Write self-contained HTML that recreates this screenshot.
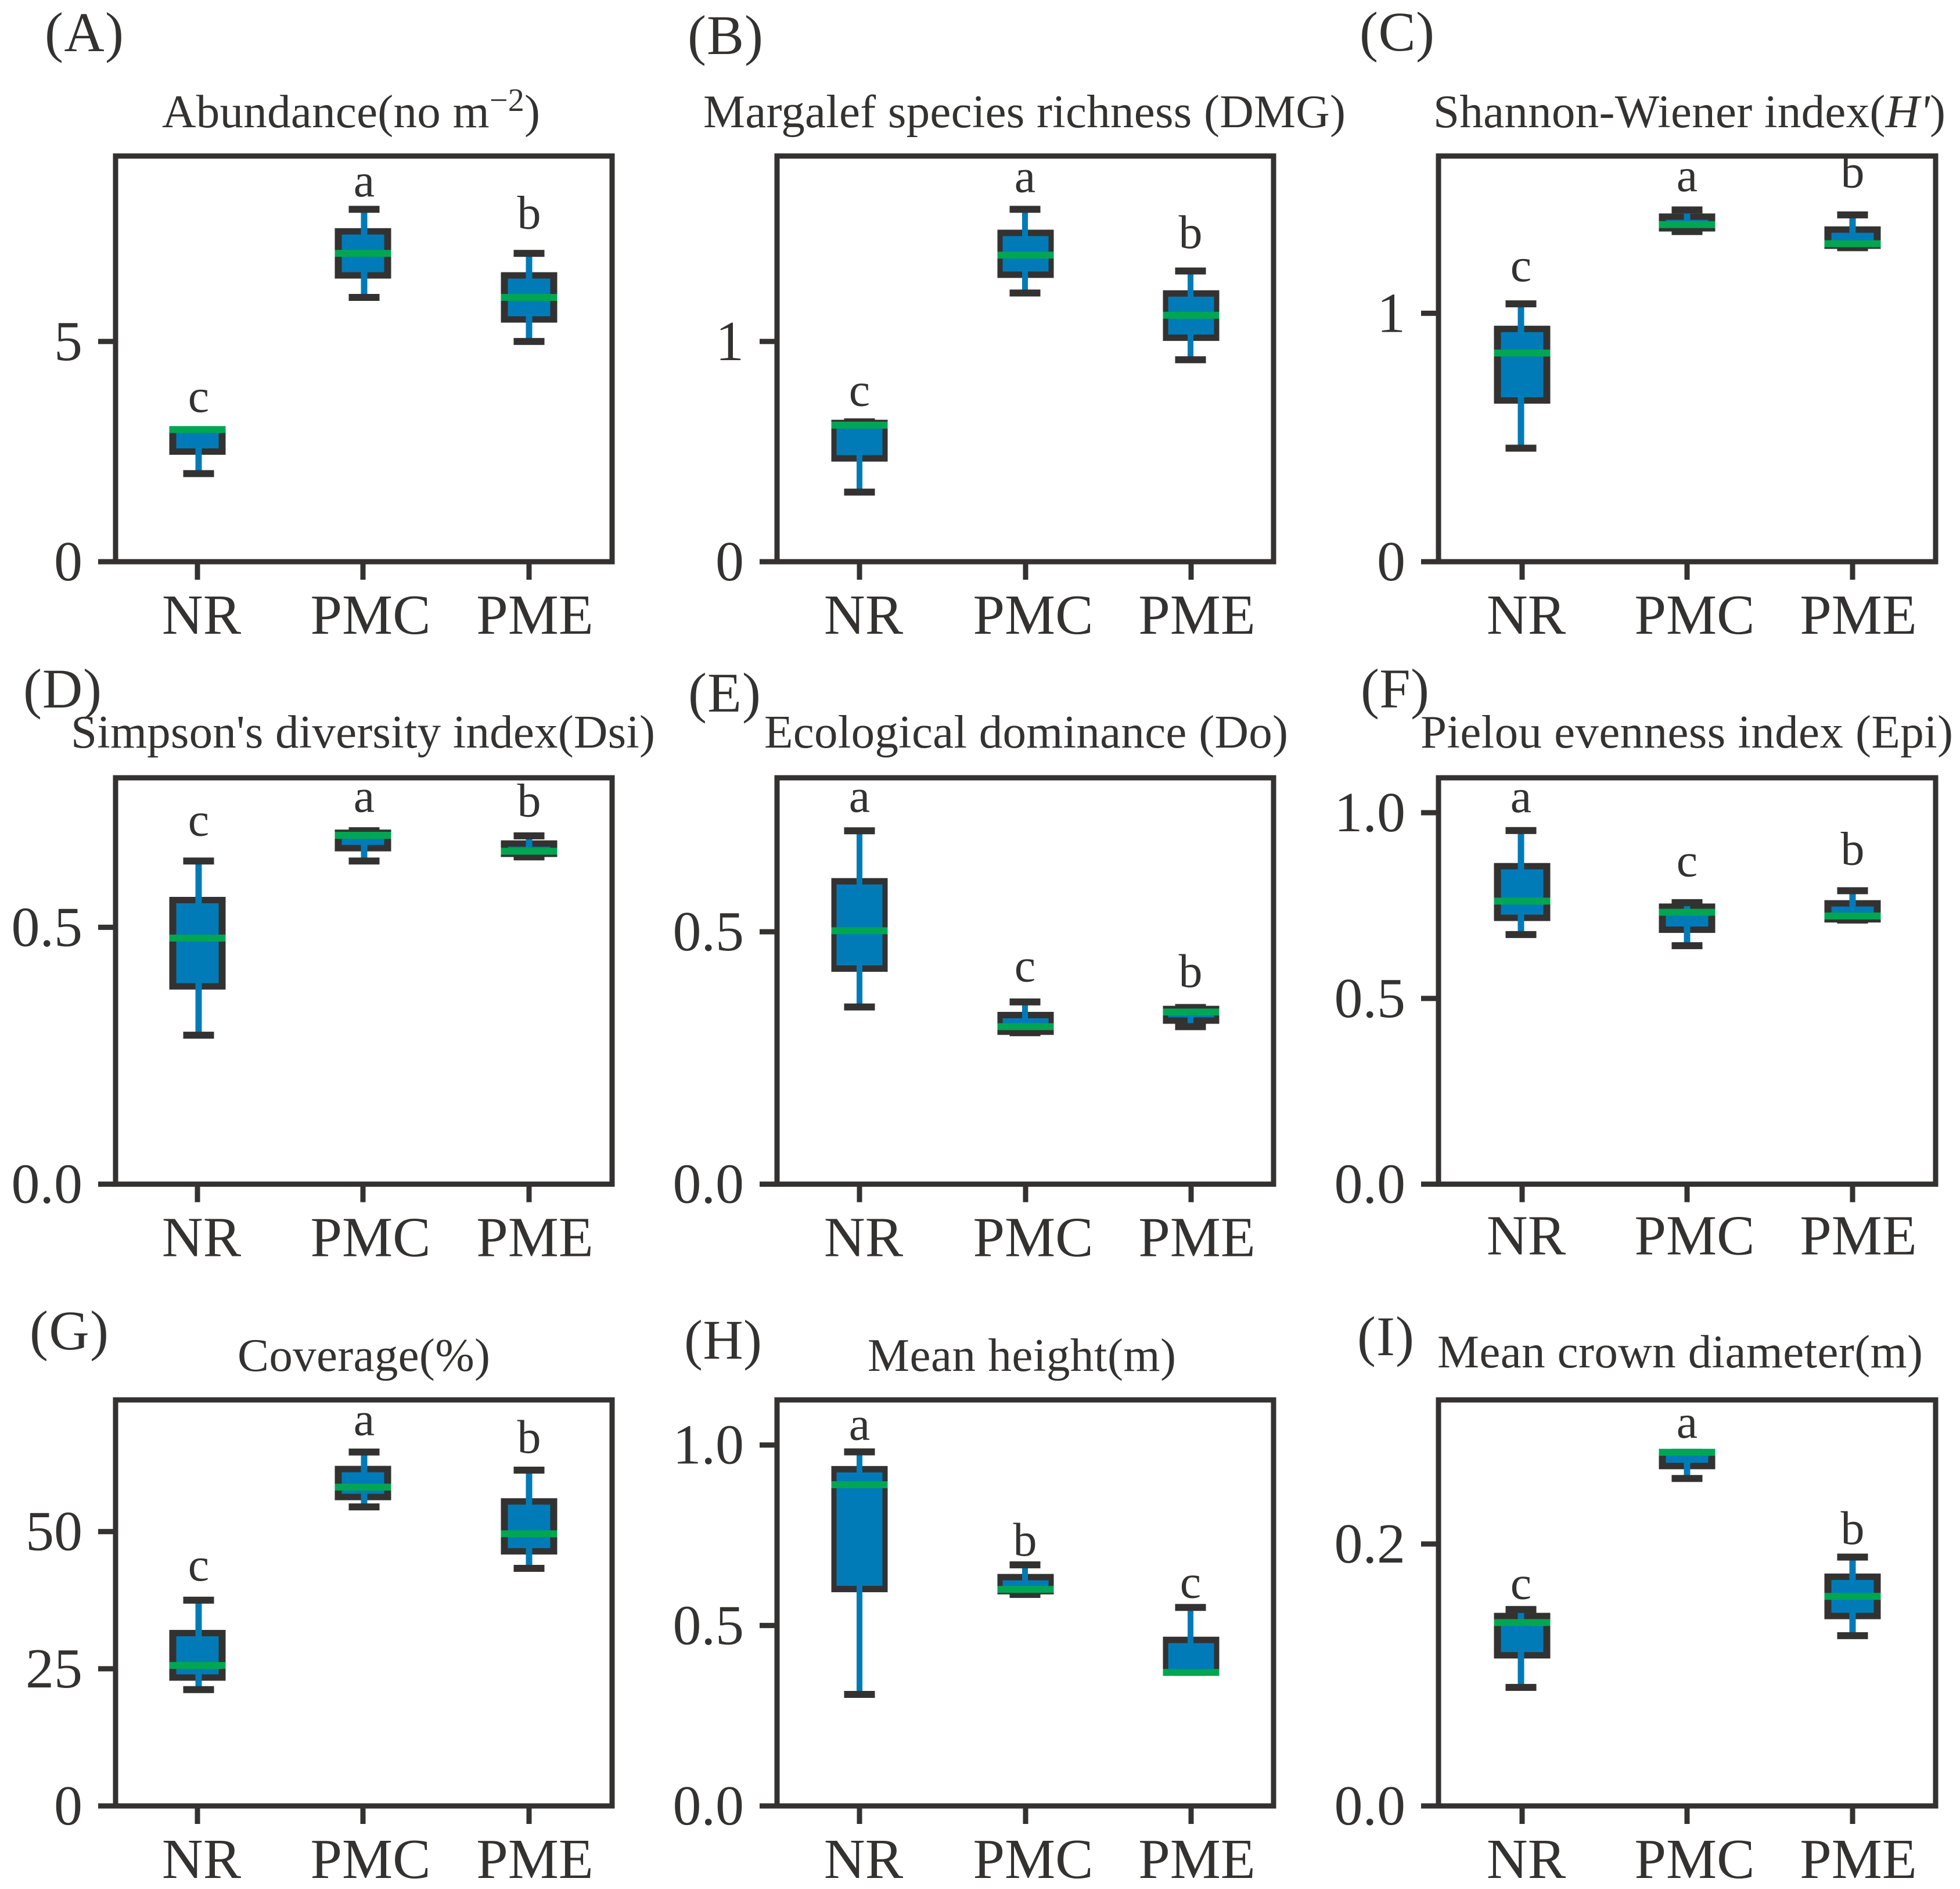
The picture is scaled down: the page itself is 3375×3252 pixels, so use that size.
<!DOCTYPE html>
<html lang="en">
<head>
<meta charset="utf-8">
<title>Vegetation indices box plots</title>
<style>
html,body{margin:0;padding:0;background:#fff;}
svg{display:block;}
text{font-family:"Liberation Serif",serif;fill:#333231;}
</style>
</head>
<body>
<svg id="chart" xmlns="http://www.w3.org/2000/svg" width="3375" height="3252" viewBox="0 0 3375 3252"></svg>
<script>
const categories = ['NR', 'PMC', 'PME'];

const aHigh = [3, 8, 7],            aQ3 = [3, 7.5, 6.5],          aMedian = [3, 7, 6],            aQ1 = [2.5, 6.5, 5.5],         aLow = [2, 6, 5];
const bHigh = [0.635, 1.6, 1.32],   bQ3 = [0.63, 1.493, 1.218],   bMedian = [0.62, 1.392, 1.119], bQ1 = [0.469, 1.303, 1.017],   bLow = [0.316, 1.22, 0.917];
const cHigh = [1.038, 1.416, 1.396],cQ3 = [0.937, 1.389, 1.337],  cMedian = [0.84, 1.357, 1.28],  cQ1 = [0.649, 1.342, 1.272],   cLow = [0.457, 1.329, 1.264];
const dHigh = [0.629, 0.688, 0.678],dQ3 = [0.553, 0.684, 0.663],  dMedian = [0.479, 0.679, 0.648],dQ1 = [0.385, 0.654, 0.643],   dLow = [0.29, 0.629, 0.637];
const eHigh = [0.7, 0.361, 0.35],   eQ3 = [0.6, 0.335, 0.347],    eMedian = [0.502, 0.312, 0.341],eQ1 = [0.427, 0.302, 0.324],   eLow = [0.351, 0.3, 0.312];
const fHigh = [0.952, 0.758, 0.79], fQ3 = [0.856, 0.747, 0.756],  fMedian = [0.762, 0.732, 0.722],fQ1 = [0.717, 0.685, 0.713],   fLow = [0.672, 0.642, 0.711];
const gHigh = [37.5, 64.5, 61.2],   gQ3 = [31.5, 61.4, 55.5],     gMedian = [25.6, 58.1, 49.6],   gQ1 = [23.4, 56.3, 46.4],      gLow = [21.2, 54.5, 43.3];
const hHigh = [0.981, 0.668, 0.55], hQ3 = [0.933, 0.634, 0.46],   hMedian = [0.89, 0.6, 0.37],    hQ1 = [0.601, 0.595, 0.37],    hLow = [0.309, 0.586, 0.37];
const iHigh = [0.15, 0.27, 0.19],   iQ3 = [0.145, 0.27, 0.175],   iMedian = [0.14, 0.27, 0.16],   iQ1 = [0.115, 0.2595, 0.145],  iLow = [0.0905, 0.25, 0.13];

const aLetters = ['c', 'a', 'b'], aLetterAt = [3.43, 8.32, 7.59];
const bLetters = ['c', 'a', 'b'], bLetterAt = [0.714, 1.684, 1.429];
const cLetters = ['c', 'a', 'b'], cLetterAt = [1.134, 1.496, 1.512];
const dLetters = ['c', 'a', 'b'], dLetterAt = [0.681, 0.727, 0.718];
const eLetters = ['a', 'c', 'b'], eLetterAt = [0.74, 0.404, 0.393];
const fLetters = ['a', 'c', 'b'], fLetterAt = [1.005, 0.832, 0.863];
const gLetters = ['c', 'a', 'b'], gLetterAt = [41.3, 67.8, 64.6];
const hLetters = ['a', 'b', 'c'], hLetterAt = [1.018, 0.697, 0.58];
const iLetters = ['c', 'a', 'b'], iLetterAt = [0.159, 0.282, 0.201];

const aTicks = [0, 5],        aTickLabels = ['0', '5'];
const bTicks = [0, 1],        bTickLabels = ['0', '1'];
const cTicks = [0, 1],        cTickLabels = ['0', '1'];
const dTicks = [0, 0.5],      dTickLabels = ['0.0', '0.5'];
const eTicks = [0, 0.5],      eTickLabels = ['0.0', '0.5'];
const fTicks = [0, 0.5, 1],   fTickLabels = ['0.0', '0.5', '1.0'];
const gTicks = [0, 25, 50],   gTickLabels = ['0', '25', '50'];
const hTicks = [0, 0.5, 1],   hTickLabels = ['0.0', '0.5', '1.0'];
const iTicks = [0, 0.2],      iTickLabels = ['0.0', '0.2'];

const yMaxes = [9.21, 1.842, 1.633, 0.791, 0.805, 1.094, 74.0, 1.125, 0.31];
const panelIds = ['A', 'B', 'C', 'D', 'E', 'F', 'G', 'H', 'I'];

const NS = 'http://www.w3.org/2000/svg';
const svg = document.getElementById('chart');
const DARK = '#333231', BLUE = '#007bb8', GREEN = '#00a651';

const columns = [
  {left: 199, right: 1054, ticks: [340, 625, 911], wOff: [2, 2, 0], sx: 12, lw: 11},
  {left: 1338, right: 2193, ticks: [1480, 1766, 2051], wOff: [0, -1, -1], sx: 9, lw: 10},
  {left: 2477, right: 3333, ticks: [2621, 2905, 3190], wOff: [-2, 0, 0], sx: 12, lw: 11}
];
const rows = [
  {top: 268.6, bottom: 967},
  {top: 1339, bottom: 2038.6},
  {top: 2410, bottom: 3109}
];
const panels = [
  {high: aHigh, q3: aQ3, med: aMedian, q1: aQ1, low: aLow, letters: aLetters, letterAt: aLetterAt, ticks: aTicks, tickLabels: aTickLabels,
   title: [['Abundance(no m', 0], ['\u22122', 1], [')', 2]], tx: 279, tw: 651, ty: 219, px: 77, pw: 136, py: 88},
  {high: bHigh, q3: bQ3, med: bMedian, q1: bQ1, low: bLow, letters: bLetters, letterAt: bLetterAt, ticks: bTicks, tickLabels: bTickLabels,
   title: [['Margalef species richness (DMG)', 0]], tx: 1211, tw: 1106, ty: 219, px: 1184, pw: 130, py: 93},
  {high: cHigh, q3: cQ3, med: cMedian, q1: cQ1, low: cLow, letters: cLetters, letterAt: cLetterAt, ticks: cTicks, tickLabels: cTickLabels,
   title: [['Shannon-Wiener index(', 0], ["H'", 3], [')', 0]], tx: 2468, tw: 882, ty: 219, px: 2341, pw: 129, py: 87},
  {high: dHigh, q3: dQ3, med: dMedian, q1: dQ1, low: dLow, letters: dLetters, letterAt: dLetterAt, ticks: dTicks, tickLabels: dTickLabels,
   title: [["Simpson's diversity index(Dsi)", 0]], tx: 122, tw: 1006, ty: 1287, px: 40, pw: 135, py: 1218},
  {high: eHigh, q3: eQ3, med: eMedian, q1: eQ1, low: eLow, letters: eLetters, letterAt: eLetterAt, ticks: eTicks, tickLabels: eTickLabels,
   title: [['Ecological dominance (Do)', 0]], tx: 1316, tw: 902, ty: 1287, px: 1185, pw: 125, py: 1225},
  {high: fHigh, q3: fQ3, med: fMedian, q1: fQ1, low: fLow, letters: fLetters, letterAt: fLetterAt, ticks: fTicks, tickLabels: fTickLabels,
   title: [['Pielou evenness index (Epi)', 0]], tx: 2446, tw: 917, ty: 1287, px: 2343, pw: 118, py: 1218},
  {high: gHigh, q3: gQ3, med: gMedian, q1: gQ1, low: gLow, letters: gLetters, letterAt: gLetterAt, ticks: gTicks, tickLabels: gTickLabels,
   title: [['Coverage(%)', 0]], tx: 409, tw: 435, ty: 2360, px: 51, pw: 136, py: 2323},
  {high: hHigh, q3: hQ3, med: hMedian, q1: hQ1, low: hLow, letters: hLetters, letterAt: hLetterAt, ticks: hTicks, tickLabels: hTickLabels,
   title: [['Mean height(m)', 0]], tx: 1494, tw: 531, ty: 2360, px: 1178, pw: 134, py: 2339},
  {high: iHigh, q3: iQ3, med: iMedian, q1: iQ1, low: iLow, letters: iLetters, letterAt: iLetterAt, ticks: iTicks, tickLabels: iTickLabels,
   title: [['Mean crown diameter(m)', 0]], tx: 2475, tw: 836, ty: 2354, px: 2337, pw: 98, py: 2333}
];

function rect(parent, x, y, w, h, fill) {
  const el = document.createElementNS(NS, 'rect');
  el.setAttribute('x', x);
  el.setAttribute('y', y);
  el.setAttribute('width', w);
  el.setAttribute('height', Math.max(0, h));
  el.setAttribute('fill', fill);
  parent.appendChild(el);
  return el;
}
function label(parent, str, x, y, size, anchor) {
  const el = document.createElementNS(NS, 'text');
  el.setAttribute('x', x);
  el.setAttribute('y', y);
  el.setAttribute('font-size', size);
  el.setAttribute('text-anchor', anchor);
  el.textContent = str;
  parent.appendChild(el);
  return el;
}

const xLabelOffsets = [7, 13, 10];
const xLabelRowShift = [0, 0, 0, 0, 0, -3, 0, 0, 0];

panels.forEach(function (p, idx) {
  const col = columns[idx % 3];
  const row = rows[Math.floor(idx / 3)];
  const yMax = yMaxes[idx];
  const yScale = function (v) { return row.bottom - v * (row.bottom - row.top) / yMax; };
  const id = panelIds[idx].toLowerCase();

  const g = document.createElementNS(NS, 'g');
  
  
  svg.appendChild(g);

  const tag = label(g, '(' + panelIds[idx] + ')', p.px, p.py, 96, 'start');
  tag.setAttribute('textLength', p.pw);
  
  

  const title = document.createElementNS(NS, 'text');
  title.setAttribute('x', p.tx);
  title.setAttribute('y', p.ty);
  title.setAttribute('font-size', 81);
  title.setAttribute('textLength', p.tw);
  title.setAttribute('lengthAdjust', 'spacing');
  
  
  p.title.forEach(function (part) {
    const sp = document.createElementNS(NS, 'tspan');
    sp.textContent = part[0];
    if (part[1] === 1) { sp.setAttribute('dy', -28); sp.setAttribute('font-size', 56); }
    if (part[1] === 2) { sp.setAttribute('dy', 28); }
    if (part[1] === 3) { sp.setAttribute('font-style', 'italic'); }
    title.appendChild(sp);
  });
  g.appendChild(title);

  const frame = document.createElementNS(NS, 'rect');
  frame.setAttribute('x', col.left);
  frame.setAttribute('y', row.top);
  frame.setAttribute('width', col.right - col.left);
  frame.setAttribute('height', row.bottom - row.top);
  frame.setAttribute('fill', 'none');
  frame.setAttribute('stroke', DARK);
  frame.setAttribute('stroke-width', 9);
  
  
  g.appendChild(frame);

  p.ticks.forEach(function (v, i) {
    const ty = yScale(v);
    const tick = rect(g, col.left - 30, ty - 4.5, 30, 9, DARK);
    
    
    const tl = label(g, p.tickLabels[i], col.left - 57, ty + 32, 98, 'end');
    
    
  });

  categories.forEach(function (cat, i) {
    const cx = col.ticks[i];
    const wx = cx + col.wOff[i];

    const xt = rect(g, cx - 4.5, row.bottom, 9, 31, DARK);
    
    
    const xl = label(g, cat, cx + xLabelOffsets[i], row.bottom + 124 + xLabelRowShift[idx], 98, 'middle');
    
    

    const sy = 11;
    const yTop = yScale(p.q3[i]) - sy / 2;
    const yBot = yScale(p.q1[i]) + sy / 2;
    const outer = rect(g, cx - 48.5, yTop, 97, yBot - yTop, DARK);
    
    
    const inner = rect(g, cx - 48.5 + col.sx, yTop + sy, 97 - 2 * col.sx, yBot - yTop - 2 * sy, BLUE);
    
    

    const whisker = rect(g, wx - col.lw / 2, yScale(p.high[i]), col.lw, yScale(p.low[i]) - yScale(p.high[i]), BLUE);
    
    

    const capHi = rect(g, wx - 26.5, yScale(p.high[i]) - 6, 53, 12, DARK);
    
    
    const capLo = rect(g, wx - 26.5, yScale(p.low[i]) - 6, 53, 12, DARK);
    
    

    const med = rect(g, cx - 48.5, yScale(p.med[i]) - 6, 97, 12, GREEN);
    
    

    const letter = label(g, p.letters[i], wx, yScale(p.letterAt[i]) + 2, 82, 'middle');
    
    
  });
});
</script>
</body>
</html>
